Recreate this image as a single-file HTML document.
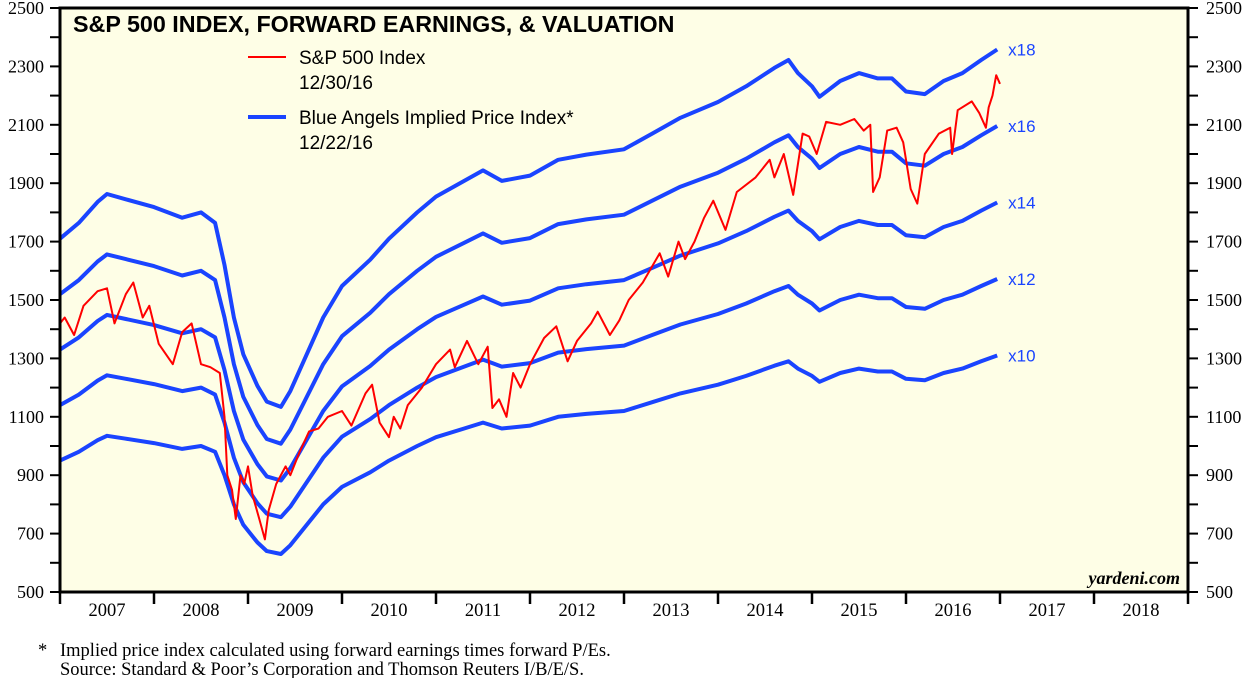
<!DOCTYPE html>
<html><head><meta charset="utf-8"><style>
html,body{margin:0;padding:0;background:#fff;}
svg{display:block;}
</style></head><body>
<svg id="chart" width="1257" height="678" xmlns="http://www.w3.org/2000/svg">
<rect x="60" y="8" width="1128" height="584" fill="#fefee6"/>
<g id="grid"></g>
<g id="series"></g>
<rect x="60" y="8" width="1128" height="584" fill="none" stroke="#000" stroke-width="3"/>
<g id="axes" font-family="'Liberation Serif',serif" font-size="18" fill="#000"></g>
<text x="73" y="32" font-family="'Liberation Sans',sans-serif" font-weight="bold" font-size="23.3">S&amp;P 500 INDEX, FORWARD EARNINGS, &amp; VALUATION</text>
<g font-family="'Liberation Sans',sans-serif" font-size="19">
<line x1="248" y1="57" x2="286" y2="57" stroke="#ff0000" stroke-width="2"/>
<text x="299" y="64">S&amp;P 500 Index</text>
<text x="299" y="89">12/30/16</text>
<line x1="248" y1="117" x2="286" y2="117" stroke="#1a44ff" stroke-width="4"/>
<text x="299" y="124">Blue Angels Implied Price Index*</text>
<text x="299" y="149">12/22/16</text>
</g>
<text x="1180" y="584" text-anchor="end" font-family="'Liberation Serif',serif" font-style="italic" font-weight="bold" font-size="18">yardeni.com</text>
<text x="38" y="656" font-family="'Liberation Serif',serif" font-size="18.5">*</text>
<text x="60" y="656" font-family="'Liberation Serif',serif" font-size="18.5">Implied price index calculated using forward earnings times forward P/Es.</text>
<text x="60" y="675" font-family="'Liberation Serif',serif" font-size="18.5">Source: Standard &amp; Poor’s Corporation and Thomson Reuters I/B/E/S.</text>
</svg>
<script>
const yTicks = [500,700,900,1100,1300,1500,1700,1900,2100,2300,2500];
const years = [2007,2008,2009,2010,2011,2012,2013,2014,2015,2016,2017,2018];
const multiples = [10,12,14,16,18];
const multipleLabels = ["x10","x12","x14","x16","x18"];
const earnDates = [2007.0,2007.2,2007.4,2007.5,2007.7,2008.0,2008.3,2008.5,2008.65,2008.75,2008.85,2008.95,2009.1,2009.2,2009.35,2009.45,2009.6,2009.8,2010.0,2010.3,2010.5,2010.8,2011.0,2011.3,2011.5,2011.7,2012.0,2012.3,2012.6,2013.0,2013.3,2013.6,2014.0,2014.3,2014.6,2014.75,2014.85,2015.0,2015.08,2015.3,2015.5,2015.7,2015.85,2016.0,2016.2,2016.4,2016.6,2016.8,2016.97];
const forwardEarnings = [95,98,102,103.5,102.5,101,99,100,98,90,80,73,67,64,63,66,72,80,86,91,95,100,103,106,108,106,107,110,111,112,115,118,121,124,127.5,129,126.5,124,122,125,126.5,125.5,125.5,123,122.5,125,126.5,129,131];
const spDates = [2007.0,2007.05,2007.15,2007.25,2007.4,2007.5,2007.58,2007.7,2007.78,2007.88,2007.95,2008.05,2008.2,2008.3,2008.4,2008.5,2008.6,2008.7,2008.75,2008.78,2008.83,2008.87,2008.92,2008.96,2009.0,2009.05,2009.12,2009.18,2009.22,2009.3,2009.4,2009.45,2009.55,2009.65,2009.75,2009.85,2010.0,2010.1,2010.25,2010.32,2010.4,2010.5,2010.55,2010.62,2010.7,2010.85,2011.0,2011.15,2011.2,2011.33,2011.45,2011.55,2011.6,2011.67,2011.75,2011.82,2011.9,2012.0,2012.15,2012.28,2012.4,2012.5,2012.65,2012.72,2012.85,2012.95,2013.05,2013.2,2013.38,2013.47,2013.58,2013.65,2013.75,2013.85,2013.95,2014.08,2014.2,2014.4,2014.55,2014.6,2014.7,2014.8,2014.9,2014.97,2015.05,2015.15,2015.3,2015.45,2015.55,2015.62,2015.65,2015.72,2015.8,2015.9,2015.97,2016.05,2016.12,2016.2,2016.35,2016.47,2016.49,2016.55,2016.7,2016.78,2016.85,2016.88,2016.92,2016.96,2017.0];
const spValues = [1420,1440,1380,1480,1530,1540,1420,1520,1560,1440,1480,1350,1280,1390,1420,1280,1270,1250,1100,900,850,750,900,870,930,830,750,680,780,870,930,900,980,1050,1060,1100,1120,1070,1180,1210,1080,1030,1100,1060,1140,1200,1280,1330,1270,1360,1280,1340,1130,1160,1100,1250,1200,1280,1370,1410,1290,1360,1420,1460,1380,1430,1500,1560,1660,1580,1700,1640,1700,1780,1840,1740,1870,1920,1980,1920,2000,1860,2070,2060,2000,2110,2100,2120,2080,2100,1870,1920,2080,2090,2040,1880,1830,2000,2070,2090,2000,2150,2180,2140,2090,2160,2200,2270,2240];

const NS="http://www.w3.org/2000/svg";
const L=60,R=1188,T=8,B=592;
function xs(t){return L+(t-2007)*(R-L)/12;}
function ys(v){return B-(v-500)*(B-T)/2000;}
function mk(tag,attrs,parent){const e=document.createElementNS(NS,tag);for(const k in attrs)e.setAttribute(k,attrs[k]);parent.appendChild(e);return e;}
const axes=document.getElementById('axes');
const series=document.getElementById('series');
for(let v=500;v<=2500;v+=100){
  const y=ys(v);
  const t1=mk('line',{x1:L-10,y1:y,x2:L,y2:y,stroke:'#000','stroke-width':2},axes);
  
  
  const t2=mk('line',{x1:R,y1:y,x2:R+10,y2:y,stroke:'#000','stroke-width':2},axes);
  
  
}
yTicks.forEach(v=>{
  const y=ys(v)+6;
  const a=mk('text',{x:L-16,y:y,'text-anchor':'end'},axes);a.textContent=v;
  
  
  const b=mk('text',{x:R+18,y:y,'text-anchor':'start'},axes);b.textContent=v;
  
  
});
for(let i=0;i<=years.length;i++){
  const x=xs(2007+i);
  const t=mk('line',{x1:x,y1:B,x2:x,y2:B+12,stroke:'#000','stroke-width':2.5},axes);
  
  
}
years.forEach(yr=>{
  const t=mk('text',{x:xs(yr+0.5),y:B+24,'text-anchor':'middle','font-size':18.5},axes);t.textContent=yr;
  
  
});
multiples.forEach((m,i)=>{
  const d=earnDates.map((t,j)=>(j?'L':'M')+xs(t).toFixed(1)+','+ys(m*forwardEarnings[j]).toFixed(1)).join(' ');
  const p=mk('path',{d:d,fill:'none',stroke:'#1a44ff','stroke-width':4,'stroke-linejoin':'round'},series);
  
  
  const last=earnDates.length-1;
  const lb=mk('text',{x:xs(earnDates[last])+11,y:ys(m*forwardEarnings[last])+6,fill:'#1a44ff','font-family':"'Liberation Sans',sans-serif",'font-size':17},series);
  lb.textContent=multipleLabels[i];
  
  
});
const dr=spDates.map((t,j)=>(j?'L':'M')+xs(t).toFixed(1)+','+ys(spValues[j]).toFixed(1)).join(' ');
const rp=mk('path',{d:dr,fill:'none',stroke:'#ff0000','stroke-width':2,'stroke-linejoin':'round'},series);


</script>
</body></html>
